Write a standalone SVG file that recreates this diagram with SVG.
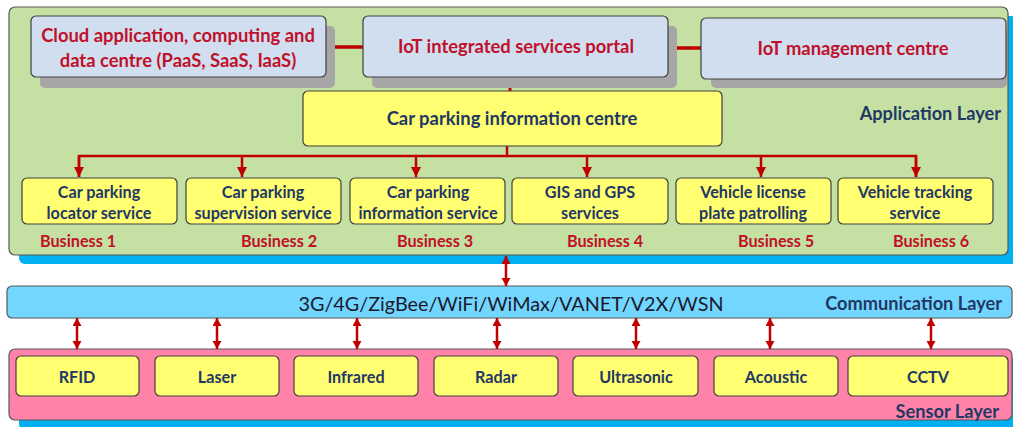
<svg xmlns="http://www.w3.org/2000/svg" width="1013" height="427" viewBox="0 0 1013 427">
<style>
text{font-family:Lato,"Open Sans","Liberation Sans",sans-serif;font-weight:bold;text-anchor:middle;dominant-baseline:central}
.layer{stroke:#595959;stroke-width:1.2}
.shadow{fill:#00B0F0}
.gshadow{fill:#A6A6A6}
.blue{fill:#D0DEEF;stroke:#404040;stroke-width:1.2}
.yel{fill:#FFFF71;stroke:#404040;stroke-width:1.2}
.red{fill:#C0102A}
.navy{fill:#1F3864}
.big{font-size:18.4px}
.sm{font-size:16.2px}
.lay{font-size:18.2px;text-anchor:end}
.c{stroke:#C00000;fill:none}
</style>
<defs>
<marker id="ah" markerUnits="userSpaceOnUse" markerWidth="12" markerHeight="12" refX="10" refY="5" orient="auto">
<path d="M0,0 L10,5 L0,10 Z" fill="#C00000"/>
</marker>
<marker id="dh" markerUnits="userSpaceOnUse" markerWidth="10" markerHeight="10" refX="8" refY="4.5" orient="auto-start-reverse">
<path d="M0,0 L8,4.5 L0,9 Z" fill="#C00000"/>
</marker>
</defs>

<g id="application-layer">
<rect class="shadow" x="19" y="16" width="998" height="248" rx="6"/>
<rect class="layer" x="9" y="7" width="999" height="248" rx="6" fill="#C4E0A2"/>
<text x="1001" y="113" class="navy lay">Application Layer</text>
</g>

<g id="sensor-layer">
<rect class="shadow" x="19" y="358" width="998" height="72" rx="6"/>
<rect class="layer" x="9" y="349" width="1003" height="71" rx="6" fill="#FF83A8"/>
<text x="999" y="411" class="navy lay">Sensor Layer</text>
</g>

<g id="communication-layer">
<rect class="layer" x="7" y="286" width="1005" height="32" rx="5" fill="#72D6FF"/>
<text x="511" y="303" style="font-weight:normal;font-size:19.8px;fill:#1a1a2e">3G/4G/ZigBee/WiFi/WiMax/VANET/V2X/WSN</text>
<text x="1002" y="303" class="navy lay">Communication Layer</text>
</g>

<g id="connectors">
<line class="c" stroke-width="3.5" x1="326" y1="47" x2="363" y2="47"/>
<line class="c" stroke-width="3.5" x1="668" y1="48" x2="701" y2="48"/>
<line class="c" stroke-width="3" x1="510" y1="77" x2="510" y2="91"/>
<line class="c" stroke-width="2.5" x1="507" y1="146" x2="507" y2="156"/>
<polyline class="c" stroke-width="2.5" points="79,177 79,156 916,156 916,177"/>
<line class="c" stroke-width="2.5" x1="79" y1="156" x2="79" y2="177" marker-end="url(#ah)"/>
<line class="c" stroke-width="2.5" x1="242" y1="156" x2="242" y2="177" marker-end="url(#ah)"/>
<line class="c" stroke-width="2.5" x1="416" y1="156" x2="416" y2="177" marker-end="url(#ah)"/>
<line class="c" stroke-width="2.5" x1="587" y1="156" x2="587" y2="177" marker-end="url(#ah)"/>
<line class="c" stroke-width="2.5" x1="761" y1="156" x2="761" y2="177" marker-end="url(#ah)"/>
<line class="c" stroke-width="2.5" x1="916" y1="156" x2="916" y2="177" marker-end="url(#ah)"/>
<line class="c" stroke-width="2.5" x1="506" y1="256" x2="506" y2="286" marker-start="url(#dh)" marker-end="url(#dh)"/>
<line class="c" stroke-width="2.5" x1="77" y1="318" x2="77" y2="349" marker-start="url(#dh)" marker-end="url(#dh)"/>
<line class="c" stroke-width="2.5" x1="217" y1="318" x2="217" y2="349" marker-start="url(#dh)" marker-end="url(#dh)"/>
<line class="c" stroke-width="2.5" x1="357" y1="318" x2="357" y2="349" marker-start="url(#dh)" marker-end="url(#dh)"/>
<line class="c" stroke-width="2.5" x1="497" y1="318" x2="497" y2="349" marker-start="url(#dh)" marker-end="url(#dh)"/>
<line class="c" stroke-width="2.5" x1="636" y1="318" x2="636" y2="349" marker-start="url(#dh)" marker-end="url(#dh)"/>
<line class="c" stroke-width="2.5" x1="770" y1="318" x2="770" y2="349" marker-start="url(#dh)" marker-end="url(#dh)"/>
<line class="c" stroke-width="2.5" x1="931" y1="318" x2="931" y2="349" marker-start="url(#dh)" marker-end="url(#dh)"/>
</g>

<g id="cloud">
<rect class="gshadow" x="40" y="26" width="295" height="62" rx="5"/>
<rect class="blue" x="31" y="16" width="295" height="61" rx="5"/>
<text x="178" y="35" class="red big">Cloud application, computing and</text>
<text x="178" y="60" class="red big">data centre (PaaS, SaaS, IaaS)</text>
</g>

<g id="portal">
<rect class="gshadow" x="372" y="26" width="305" height="62" rx="5"/>
<rect class="blue" x="363" y="16" width="305" height="61" rx="5"/>
<text x="516" y="46" class="red big">IoT integrated services portal</text>
</g>

<g id="management">
<rect class="gshadow" x="711" y="27" width="296" height="61" rx="5"/>
<rect class="blue" x="701" y="18" width="305" height="61" rx="5"/>
<text x="853" y="48" class="red big">IoT management centre</text>
</g>

<g id="info-centre">
<rect class="yel" x="303" y="91" width="419" height="55" rx="5"/>
<text x="512" y="118" class="navy big">Car parking information centre</text>
</g>

<g id="service1">
<rect class="yel" x="22" y="178" width="155" height="46" rx="5"/>
<text x="99" y="191" class="navy sm">Car parking</text>
<text x="99" y="212" class="navy sm">locator service</text>
<text x="78" y="240" class="red sm">Business 1</text>
</g>
<g id="service2">
<rect class="yel" x="186" y="178" width="155" height="46" rx="5"/>
<text x="263" y="191" class="navy sm">Car parking</text>
<text x="263" y="212" class="navy sm">supervision service</text>
<text x="279" y="240" class="red sm">Business 2</text>
</g>
<g id="service3">
<rect class="yel" x="350" y="178" width="155" height="46" rx="5"/>
<text x="428" y="191" class="navy sm">Car parking</text>
<text x="428" y="212" class="navy sm">information service</text>
<text x="435" y="240" class="red sm">Business 3</text>
</g>
<g id="service4">
<rect class="yel" x="512" y="178" width="156" height="46" rx="5"/>
<text x="590" y="191" class="navy sm">GIS and GPS</text>
<text x="590" y="212" class="navy sm">services</text>
<text x="605" y="240" class="red sm">Business 4</text>
</g>
<g id="service5">
<rect class="yel" x="676" y="178" width="155" height="46" rx="5"/>
<text x="753" y="191" class="navy sm">Vehicle license</text>
<text x="753" y="212" class="navy sm">plate patrolling</text>
<text x="776" y="240" class="red sm">Business 5</text>
</g>
<g id="service6">
<rect class="yel" x="838" y="178" width="155" height="46" rx="5"/>
<text x="915" y="191" class="navy sm">Vehicle tracking</text>
<text x="915" y="212" class="navy sm">service</text>
<text x="931" y="240" class="red sm">Business 6</text>
</g>

<g id="rfid"><rect class="yel" x="16" y="356" width="123" height="40" rx="5"/><text x="77" y="376" class="navy sm">RFID</text></g>
<g id="laser"><rect class="yel" x="155" y="356" width="124" height="40" rx="5"/><text x="217" y="376" class="navy sm">Laser</text></g>
<g id="infrared"><rect class="yel" x="294" y="356" width="124" height="40" rx="5"/><text x="356" y="376" class="navy sm">Infrared</text></g>
<g id="radar"><rect class="yel" x="434" y="356" width="124" height="40" rx="5"/><text x="496" y="376" class="navy sm">Radar</text></g>
<g id="ultrasonic"><rect class="yel" x="573" y="356" width="125" height="40" rx="5"/><text x="636" y="376" class="navy sm">Ultrasonic</text></g>
<g id="acoustic"><rect class="yel" x="714" y="356" width="124" height="40" rx="5"/><text x="776" y="376" class="navy sm">Acoustic</text></g>
<g id="cctv"><rect class="yel" x="848" y="356" width="160" height="40" rx="5"/><text x="928" y="376" class="navy sm">CCTV</text></g>
</svg>
